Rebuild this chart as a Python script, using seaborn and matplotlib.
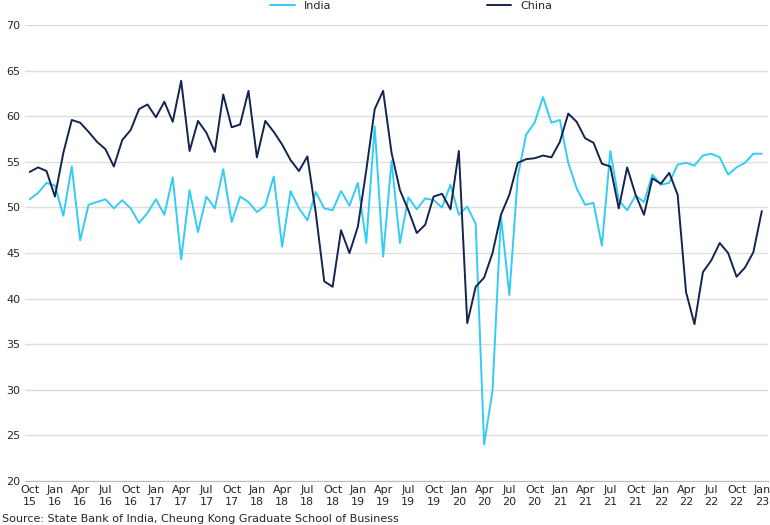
import pandas as pd
import matplotlib.pyplot as plt
import seaborn as sns

# monthly PMI readings, Oct 2015 - Jan 2023
india = [50.9, 51.6, 52.7,
         52.4, 49.1, 54.5, 46.4, 50.3, 50.6, 50.9, 49.9, 50.8, 49.9, 48.3, 49.4,
         50.9, 49.2, 53.3, 44.3, 51.9, 47.3, 51.2, 49.9, 54.2, 48.4, 51.2, 50.6,
         49.5, 50.2, 53.4, 45.7, 51.8, 49.9, 48.6, 51.7, 49.9, 49.7, 51.8, 50.2,
         52.7, 46.1, 58.9, 44.6, 55.1, 46.1, 51.1, 49.8, 51.0, 50.8, 50.0, 52.5,
         49.2, 50.1, 48.2, 24.0, 29.9, 49.1, 40.4, 53.4, 58.0, 59.3, 62.1, 59.3,
         59.6, 54.9, 52.1, 50.3, 50.5, 45.8, 56.2, 50.8, 49.7, 51.3, 50.6, 53.6,
         52.5, 52.7, 54.7, 54.9, 54.6, 55.7, 55.9, 55.5, 53.6, 54.4, 54.9, 55.9,
         55.9]
china = [53.9, 54.4, 54.0,
         51.2, 56.0, 59.6, 59.3, 58.3, 57.2, 56.4, 54.5, 57.4, 58.5, 60.8, 61.3,
         59.9, 61.6, 59.4, 63.9, 56.2, 59.5, 58.2, 56.1, 62.4, 58.8, 59.1, 62.8,
         55.5, 59.5, 58.3, 56.9, 55.2, 54.0, 55.6, 49.4, 41.9, 41.3, 47.5, 45.0,
         47.9, 54.1, 60.8, 62.8, 56.0, 51.9, 49.7, 47.2, 48.1, 51.2, 51.5, 49.8,
         56.2, 37.3, 41.3, 42.3, 45.0, 49.2, 51.4, 54.9, 55.3, 55.4, 55.7, 55.5,
         57.2, 60.3, 59.4, 57.6, 57.1, 54.8, 54.5, 49.9, 54.4, 51.4, 49.2, 53.2,
         52.6, 53.8, 51.4, 40.7, 37.2, 42.9, 44.2, 46.1, 45.0, 42.4, 43.4, 45.1,
         49.6]
months = pd.date_range("2015-10-01", periods=len(india), freq="MS")
tick_labels = [f"{m:%b}\n{m:%y}" for m in months[::3]]

df = pd.DataFrame({"i": range(len(india)), "India": india, "China": china})
long = df.melt(id_vars="i", var_name="country", value_name="pmi")

sns.set_style("white")
fig = plt.figure(figsize=(7.7, 5.25), dpi=100)
ax = fig.add_axes([0.032, 0.084, 0.965, 0.868])
sns.lineplot(data=long, x="i", y="pmi", hue="country",
             palette={"India": "#33ccf5", "China": "#14244f"},
             linewidth=1.4, ax=ax)

ax.set_ylim(20, 70)
ax.set_yticks(range(20, 71, 5))
ax.set_xlim(-0.6, 87.7)
ax.set_xticks(range(0, len(india), 3))
ax.set_xticklabels(tick_labels)
ax.tick_params(labelsize=8, length=0, pad=3)
ax.yaxis.grid(True, color="#dddddd", linewidth=1)
for s in ["top", "right", "left"]:
    ax.spines[s].set_visible(False)
ax.spines["bottom"].set_color("#bbbbbb")
ax.set_xlabel("")
ax.set_ylabel("")

ax.legend(loc="upper center", bbox_to_anchor=(0.52, 1.075), ncol=2,
          frameon=False, fontsize=8, handlelength=2.2, columnspacing=14)
fig.text(0.003, 0.005, "Source: State Bank of India, Cheung Kong Graduate School of Business",
         fontsize=8)

plt.savefig("out.png", dpi=100)
plt.close()
